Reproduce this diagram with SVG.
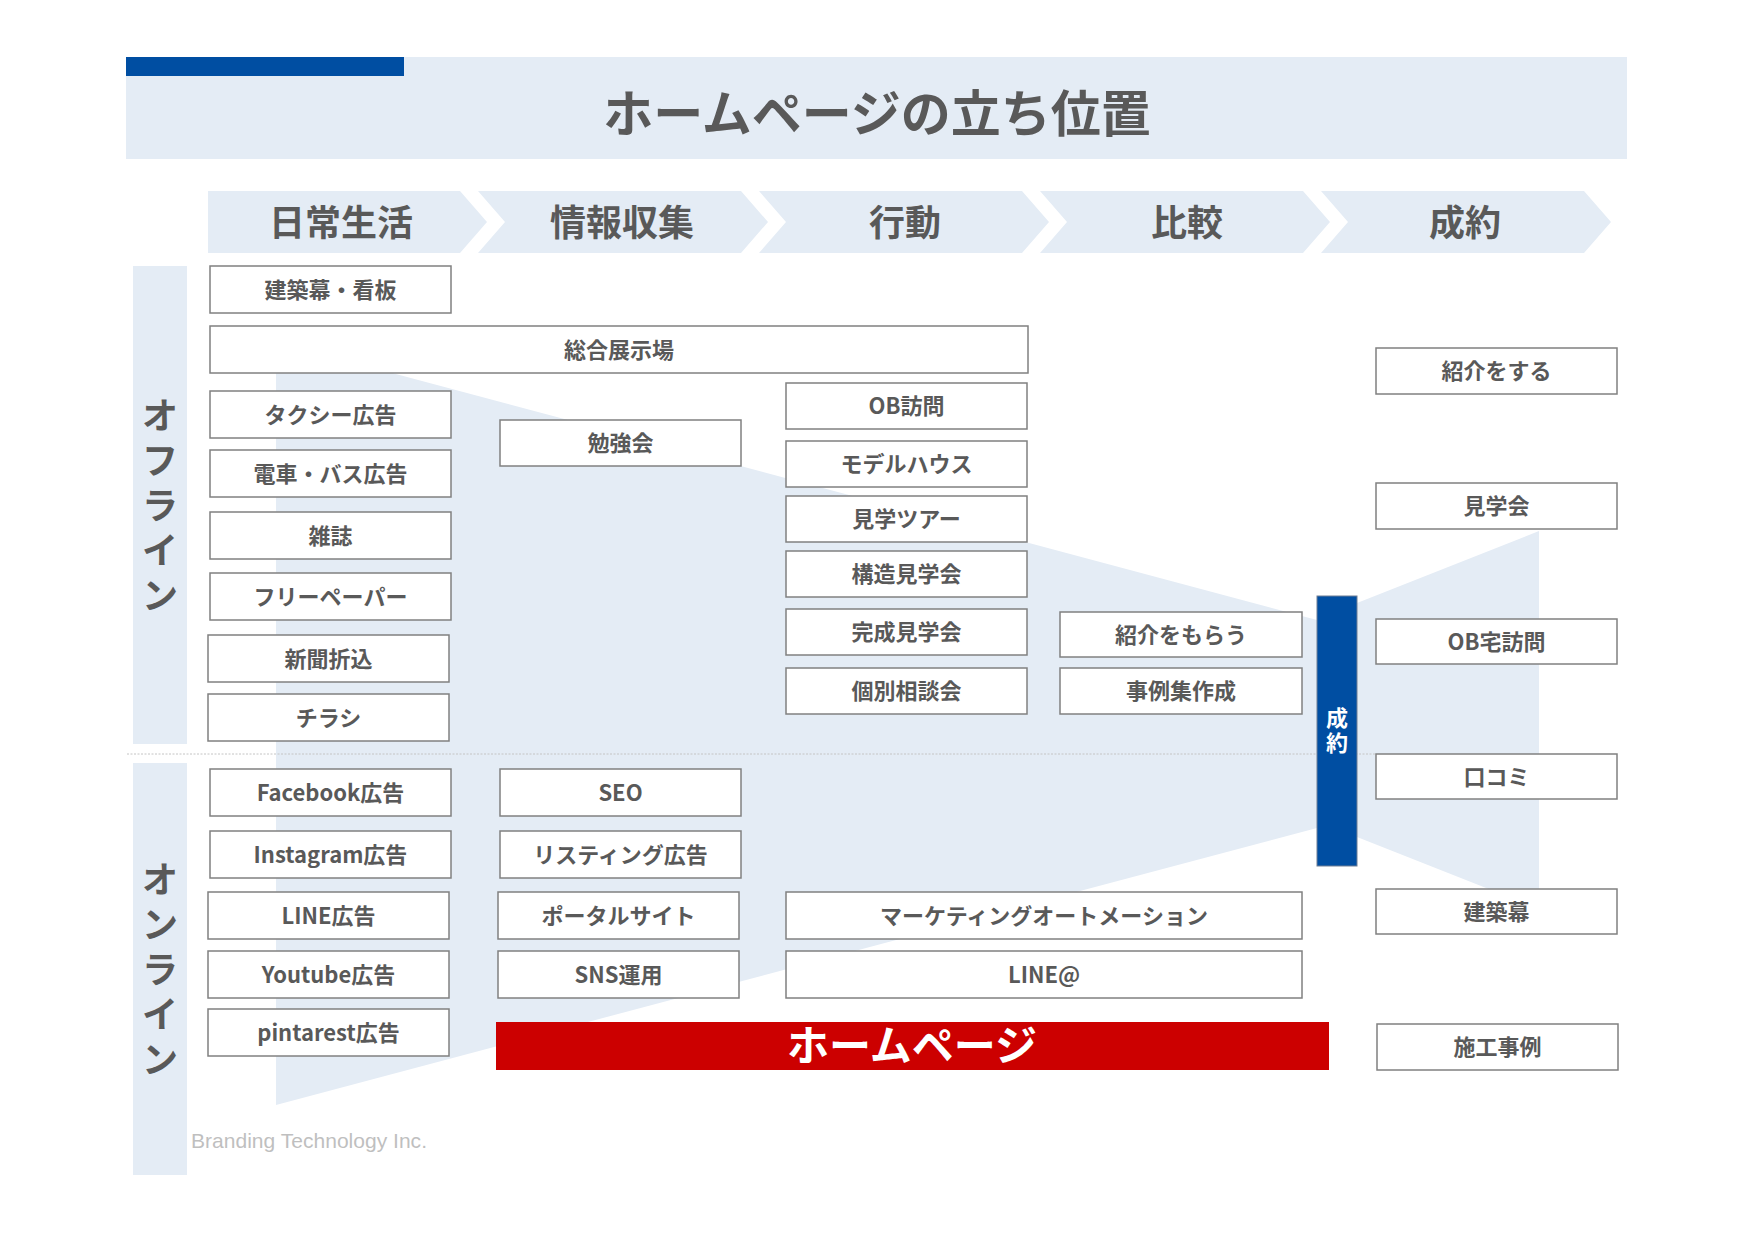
<svg xmlns="http://www.w3.org/2000/svg" width="1755" height="1241" viewBox="0 0 1755 1241">
<defs>
<style>
.band{fill:#E4ECF5}
.box{fill:#FFFFFF;stroke:#808080;stroke-width:1.5}
.t{font-family:"Noto Sans CJK JP","Noto Sans",sans-serif;font-weight:700;fill:#595959;text-anchor:middle;dominant-baseline:central}
.lbl{font-size:22px}
.hdr{font-size:36px}
.side{font-size:36px}
.ttl{font-size:50px}
.wt{fill:#FFFFFF}
</style>
</defs>
<rect x="0" y="0" width="1755" height="1241" fill="#FFFFFF"/>

<g id="title">
<rect class="band" x="126" y="57" width="1501" height="102"/>
<rect x="126" y="57" width="278" height="19" fill="#004EA2"/>
<text class="t ttl" x="877" y="110">ホームページの立ち位置</text>
</g>

<g id="stages">
<g id="stage-1"><polygon class="band" points="208,191 460,191 487,222 460,253 208,253"/><text class="t hdr" x="341" y="220">日常生活</text></g>
<g id="stage-2"><polygon class="band" points="478,191 741,191 768,222 741,253 478,253 505,222"/><text class="t hdr" x="622" y="220">情報収集</text></g>
<g id="stage-3"><polygon class="band" points="759,191 1022,191 1049,222 1022,253 759,253 786,222"/><text class="t hdr" x="905" y="220">行動</text></g>
<g id="stage-4"><polygon class="band" points="1040,191 1303,191 1330,222 1303,253 1040,253 1067,222"/><text class="t hdr" x="1187" y="220">比較</text></g>
<g id="stage-5"><polygon class="band" points="1321,191 1584,191 1611,222 1584,253 1321,253 1348,222"/><text class="t hdr" x="1465" y="220">成約</text></g>
</g>

<g id="side-offline">
<rect class="band" x="133" y="266" width="54" height="478"/>
<text class="t side" x="160" y="413">オ</text>
<text class="t side" x="160" y="458">フ</text>
<text class="t side" x="160" y="503">ラ</text>
<text class="t side" x="160" y="548">イ</text>
<text class="t side" x="160" y="593">ン</text>
</g>
<g id="side-online">
<rect class="band" x="133" y="763" width="54" height="412"/>
<text class="t side" x="160" y="877">オ</text>
<text class="t side" x="160" y="922">ン</text>
<text class="t side" x="160" y="967">ラ</text>
<text class="t side" x="160" y="1012">イ</text>
<text class="t side" x="160" y="1057">ン</text>
</g>

<g id="funnel">
<polygon class="band" points="276,342 1317,620 1317,828 276,1105"/>
<polygon class="band" points="1357,603 1539,531 1539,909 1357,837"/>
</g>

<line id="divider" x1="127" y1="754" x2="1376" y2="754" stroke="#C4C4C4" stroke-width="1" stroke-dasharray="2,1.5"/>

<g id="connectors"></g>

<g id="contract-bar">
<rect x="1317" y="596" width="40" height="270" fill="#004EA2" stroke="#6F7F95" stroke-width="1"/>
<text class="t wt" font-size="22" x="1337" y="716">成</text>
<text class="t wt" font-size="22" x="1337" y="741">約</text>
</g>

<g id="n1"><rect class="box" x="210" y="266" width="241" height="47"/><text class="t lbl" x="330.5" y="287.5">建築幕・看板</text></g>
<g id="n2"><rect class="box" x="210" y="326" width="818" height="47"/><text class="t lbl" x="619" y="347.5">総合展示場</text></g>
<g id="n3"><rect class="box" x="210" y="391" width="241" height="47"/><text class="t lbl" x="330.5" y="412.5">タクシー広告</text></g>
<g id="n4"><rect class="box" x="210" y="450" width="241" height="47"/><text class="t lbl" x="330.5" y="471.5">電車・バス広告</text></g>
<g id="n5"><rect class="box" x="210" y="512" width="241" height="47"/><text class="t lbl" x="330.5" y="533.5">雑誌</text></g>
<g id="n6"><rect class="box" x="210" y="573" width="241" height="47"/><text class="t lbl" x="330.5" y="594.5">フリーペーパー</text></g>
<g id="n7"><rect class="box" x="208" y="635" width="241" height="47"/><text class="t lbl" x="328.5" y="656.5">新聞折込</text></g>
<g id="n8"><rect class="box" x="208" y="694" width="241" height="47"/><text class="t lbl" x="328.5" y="715.5">チラシ</text></g>
<g id="n9"><rect class="box" x="500" y="420" width="241" height="46"/><text class="t lbl" x="620.5" y="441">勉強会</text></g>
<g id="n10"><rect class="box" x="786" y="383" width="241" height="46"/><text class="t lbl" x="906.5" y="404">OB訪問</text></g>
<g id="n11"><rect class="box" x="786" y="441" width="241" height="46"/><text class="t lbl" x="906.5" y="462">モデルハウス</text></g>
<g id="n12"><rect class="box" x="786" y="496" width="241" height="46"/><text class="t lbl" x="906.5" y="517">見学ツアー</text></g>
<g id="n13"><rect class="box" x="786" y="551" width="241" height="46"/><text class="t lbl" x="906.5" y="572">構造見学会</text></g>
<g id="n14"><rect class="box" x="786" y="609" width="241" height="46"/><text class="t lbl" x="906.5" y="630">完成見学会</text></g>
<g id="n15"><rect class="box" x="786" y="668" width="241" height="46"/><text class="t lbl" x="906.5" y="689">個別相談会</text></g>
<g id="n16"><rect class="box" x="1060" y="612" width="242" height="45"/><text class="t lbl" x="1181" y="632.5">紹介をもらう</text></g>
<g id="n17"><rect class="box" x="1060" y="668" width="242" height="46"/><text class="t lbl" x="1181" y="689">事例集作成</text></g>

<g id="n18"><rect class="box" x="1376" y="348" width="241" height="46"/><text class="t lbl" x="1496.5" y="369">紹介をする</text></g>
<g id="n19"><rect class="box" x="1376" y="483" width="241" height="46"/><text class="t lbl" x="1496.5" y="504">見学会</text></g>
<g id="n20"><rect class="box" x="1376" y="619" width="241" height="45"/><text class="t lbl" x="1496.5" y="639.5">OB宅訪問</text></g>
<g id="n21"><rect class="box" x="1376" y="754" width="241" height="45"/><text class="t lbl" x="1496.5" y="774.5">口コミ</text></g>
<g id="n22"><rect class="box" x="1376" y="889" width="241" height="45"/><text class="t lbl" x="1496.5" y="909.5">建築幕</text></g>
<g id="n23"><rect class="box" x="1377" y="1024" width="241" height="46"/><text class="t lbl" x="1497.5" y="1045">施工事例</text></g>

<g id="n24"><rect class="box" x="210" y="769" width="241" height="47"/><text class="t lbl" x="330.5" y="790.5">Facebook広告</text></g>
<g id="n25"><rect class="box" x="210" y="831" width="241" height="47"/><text class="t lbl" x="330.5" y="852.5">Instagram広告</text></g>
<g id="n26"><rect class="box" x="208" y="892" width="241" height="47"/><text class="t lbl" x="328.5" y="913.5">LINE広告</text></g>
<g id="n27"><rect class="box" x="208" y="951" width="241" height="47"/><text class="t lbl" x="328.5" y="972.5">Youtube広告</text></g>
<g id="n28"><rect class="box" x="208" y="1009" width="241" height="47"/><text class="t lbl" x="328.5" y="1030.5">pintarest広告</text></g>
<g id="n29"><rect class="box" x="500" y="769" width="241" height="47"/><text class="t lbl" x="620.5" y="790.5">SEO</text></g>
<g id="n30"><rect class="box" x="500" y="831" width="241" height="47"/><text class="t lbl" x="620.5" y="852.5">リスティング広告</text></g>
<g id="n31"><rect class="box" x="498" y="892" width="241" height="47"/><text class="t lbl" x="618.5" y="913.5">ポータルサイト</text></g>
<g id="n32"><rect class="box" x="498" y="951" width="241" height="47"/><text class="t lbl" x="618.5" y="972.5">SNS運用</text></g>
<g id="n33"><rect class="box" x="786" y="892" width="516" height="47"/><text class="t lbl" x="1044" y="913.5">マーケティングオートメーション</text></g>
<g id="n34"><rect class="box" x="786" y="951" width="516" height="47"/><text class="t lbl" x="1044" y="972.5">LINE@</text></g>

<g id="n35"><rect x="496" y="1022" width="833" height="48" fill="#CC0000"/><text class="t wt" font-size="42" x="912" y="1042">ホームページ</text></g>

<text x="191" y="1148" font-family="'Liberation Sans',Arial,sans-serif" font-size="21" fill="#BFBFBF" textLength="236" lengthAdjust="spacingAndGlyphs">Branding Technology Inc.</text>
</svg>
